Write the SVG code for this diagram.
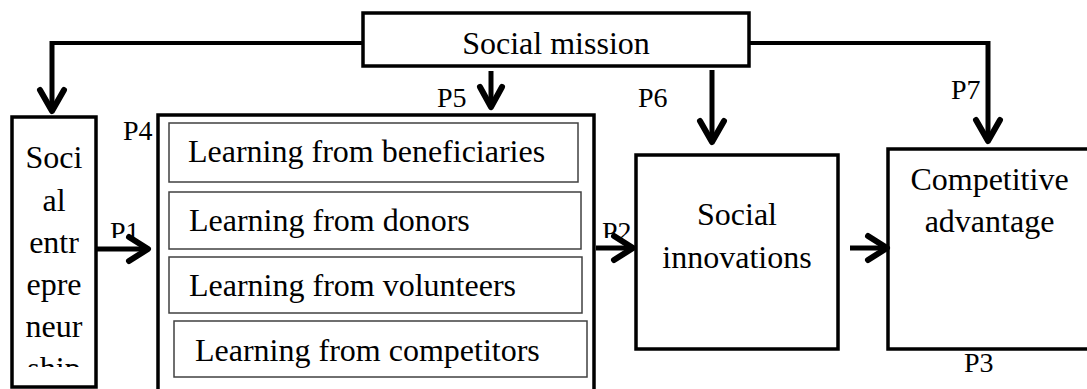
<svg xmlns="http://www.w3.org/2000/svg" width="1087" height="389" viewBox="0 0 1087 389">
  <style>
    text { font-family: "Liberation Serif", "Times New Roman", serif; fill: #000; }
    .t { font-size: 32px; }
    .c { text-anchor: middle; }
    .lbl { font-size: 28px; }
    .box { fill: #fff; stroke: #000; stroke-width: 3.5; }
    .inner { fill: #fff; stroke: #404040; stroke-width: 1.5; }
    .feed { fill: none; stroke: #000; stroke-width: 4; }
    .shaft { fill: none; stroke: #000; stroke-width: 5; }
    .head { fill: none; stroke: #000; stroke-width: 6; stroke-linecap: round; stroke-linejoin: round; }
  </style>
  <defs>
    <clipPath id="clip-entre">
      <rect x="12" y="117" width="84" height="250"/>
    </clipPath>
    <clipPath id="clip-p12">
      <rect x="0" y="200" width="1087" height="38"/>
    </clipPath>
  </defs>

  <rect x="0" y="0" width="1087" height="389" fill="#fff"/>

  <!-- Social mission -->
  <g id="social-mission">
    <rect class="box" x="363" y="13" width="386" height="53"/>
    <text class="t c" x="556" y="54">Social mission</text>
  </g>

  <!-- Social entrepreneurship (narrow column, wrapped word) -->
  <g id="social-entrepreneurship">
    <rect class="box" x="12" y="117" width="84" height="270"/>
    <g clip-path="url(#clip-entre)">
      <text class="t c" x="54" y="168">Soci</text>
      <text class="t c" x="54" y="211">al</text>
      <text class="t c" x="54" y="253">entr</text>
      <text class="t c" x="54" y="295">epre</text>
      <text class="t c" x="54" y="337">neur</text>
      <text class="t c" x="54" y="379">ship</text>
    </g>
  </g>

  <!-- Organisational learning -->
  <g id="learning">
    <rect class="box" x="158" y="115" width="436" height="290"/>
    <rect class="inner" x="169" y="123" width="409" height="59"/>
    <text class="t" x="188" y="162">Learning from beneficiaries</text>
    <rect class="inner" x="169" y="192" width="412" height="57"/>
    <text class="t" x="189" y="231">Learning from donors</text>
    <rect class="inner" x="169" y="257" width="413" height="56"/>
    <text class="t" x="189" y="296">Learning from volunteers</text>
    <rect class="inner" x="174" y="321" width="413" height="56"/>
    <text class="t" x="195" y="361">Learning from competitors</text>
  </g>

  <!-- Social innovations -->
  <g id="social-innovations">
    <rect class="box" x="636" y="155" width="202" height="194"/>
    <text class="t c" x="737" y="225">Social</text>
    <text class="t c" x="737" y="268">innovations</text>
  </g>

  <!-- Competitive advantage -->
  <g id="competitive-advantage">
    <rect class="box" x="888" y="149" width="204" height="200"/>
    <text class="t c" x="989.5" y="190">Competitive</text>
    <text class="t c" x="989.5" y="232">advantage</text>
  </g>

  <!-- Connectors -->
  <g id="connectors">
    <!-- mission to entrepreneurship -->
    <path class="feed" d="M363,43 H52"/>
    <path class="shaft" d="M52,41 V110"/>
    <path class="head" d="M40,90 L52,111 L64,90"/>
    <!-- mission to competitive advantage -->
    <path class="feed" d="M749,43 H988"/>
    <path class="shaft" d="M988,41 V140"/>
    <path class="head" d="M976,120 L988,141 L1000,120"/>
    <!-- mission to learning -->
    <path class="shaft" d="M491,71 V106"/>
    <path class="head" d="M480,87 L491,107 L502,87"/>
    <!-- mission to innovations -->
    <path class="shaft" d="M712,70 V140"/>
    <path class="head" d="M700,121 L712,142 L724,121"/>
    <!-- entrepreneurship to learning -->
    <path class="shaft" d="M96,249 H146"/>
    <path class="head" d="M129,237 L148,249 L129,261"/>
    <!-- learning to innovations -->
    <path class="shaft" d="M596,248 H632"/>
    <path class="head" d="M614,236 L633,248 L614,260"/>
    <!-- innovations to competitive advantage -->
    <path class="shaft" d="M850,248 H885"/>
    <path class="head" d="M868,236 L887,248 L868,260"/>
  </g>

  <!-- Proposition labels -->
  <g id="labels">
    <text class="lbl" x="123" y="140">P4</text>
    <text class="lbl" x="437" y="107">P5</text>
    <text class="lbl" x="638" y="107">P6</text>
    <text class="lbl" x="951" y="99">P7</text>
    <text class="lbl" x="964" y="372">P3</text>
    <g clip-path="url(#clip-p12)">
      <text class="lbl" x="110" y="241">P1</text>
      <text class="lbl" x="602" y="241">P2</text>
    </g>
  </g>
</svg>
